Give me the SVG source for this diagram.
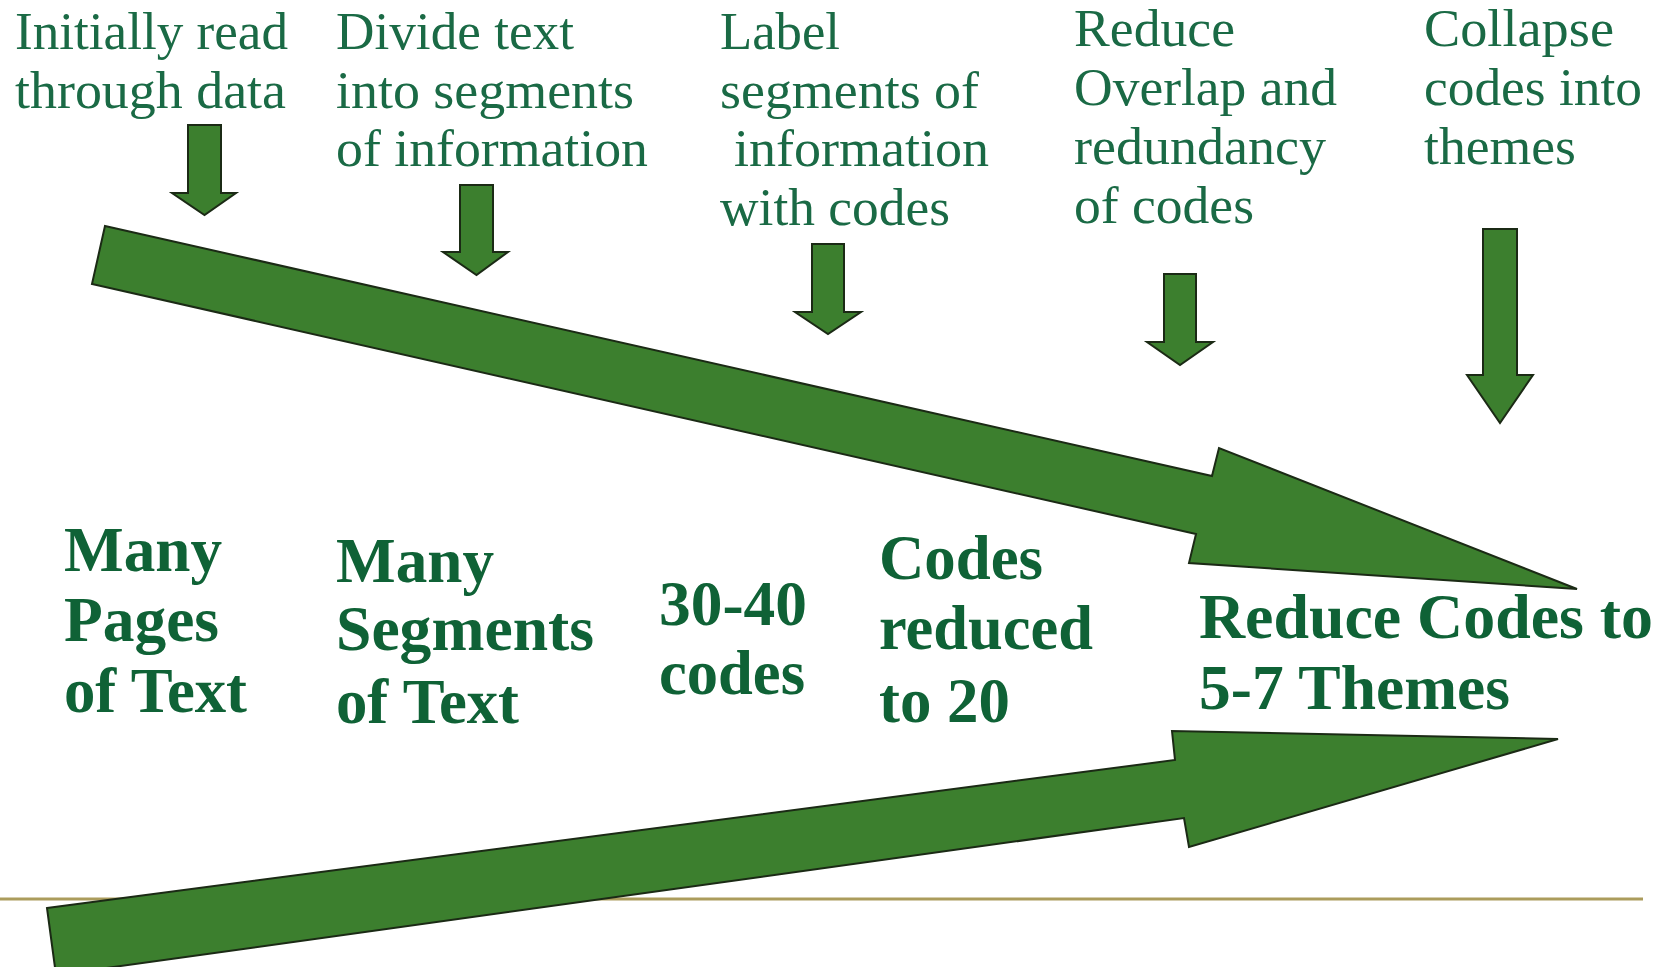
<svg xmlns="http://www.w3.org/2000/svg" width="1674" height="967" viewBox="0 0 1674 967">
<style>
.arrow{fill:#3c7f2e;stroke:#1b2a15;stroke-width:2;stroke-linejoin:miter}
.step{font-family:"Liberation Serif","Times New Roman",serif;font-size:53px;fill:#1a6a45}
.stage{font-family:"Liberation Serif","Times New Roman",serif;font-size:63px;font-weight:bold;fill:#0f6236}
</style>
<rect width="1674" height="967" fill="#ffffff"/>
<line x1="0" y1="899" x2="1643" y2="899" stroke="#ab9c5c" stroke-width="3"/>
<g id="connectors">
  <polygon class="arrow" points="105,226 1212,476 1219,448 1577,589 1189,563 1196,534 92,284"/>
  <polygon class="arrow" points="47,908 1175,760 1172,731 1558,739 1189,847 1184,818 56,975"/>
  <polygon class="arrow" points="188,125 221,125 221,193 236,193 204.5,215 172,193 188,193"/>
  <polygon class="arrow" points="460,185 493,185 493,252 508,252 476.5,275 443,252 460,252"/>
  <polygon class="arrow" points="812,244 844,244 844,312 861,312 828,334 795,312 812,312"/>
  <polygon class="arrow" points="1164,274 1196,274 1196,342 1213,342 1180,365 1147,342 1164,342"/>
  <polygon class="arrow" points="1483,229 1517,229 1517,375 1533,375 1500,423 1467,375 1483,375"/>
</g>
<g id="step1">
  <text class="step" x="15" y="49" textLength="273" lengthAdjust="spacingAndGlyphs">Initially read</text>
  <text class="step" x="15" y="108" textLength="271" lengthAdjust="spacingAndGlyphs">through data</text>
</g>
<g id="step2">
  <text class="step" x="336" y="49" textLength="238" lengthAdjust="spacingAndGlyphs">Divide text</text>
  <text class="step" x="336" y="108" textLength="298" lengthAdjust="spacingAndGlyphs">into segments</text>
  <text class="step" x="336" y="166" textLength="312" lengthAdjust="spacingAndGlyphs">of information</text>
</g>
<g id="step3">
  <text class="step" x="720" y="49" textLength="120" lengthAdjust="spacingAndGlyphs">Label</text>
  <text class="step" x="720" y="108" textLength="259" lengthAdjust="spacingAndGlyphs">segments of</text>
  <text class="step" x="734" y="166" textLength="255" lengthAdjust="spacingAndGlyphs">information</text>
  <text class="step" x="720" y="225" textLength="230" lengthAdjust="spacingAndGlyphs">with codes</text>
</g>
<g id="step4">
  <text class="step" x="1074" y="46" textLength="161" lengthAdjust="spacingAndGlyphs">Reduce</text>
  <text class="step" x="1074" y="105" textLength="263" lengthAdjust="spacingAndGlyphs">Overlap and</text>
  <text class="step" x="1074" y="164" textLength="252" lengthAdjust="spacingAndGlyphs">redundancy</text>
  <text class="step" x="1074" y="223" textLength="180" lengthAdjust="spacingAndGlyphs">of codes</text>
</g>
<g id="step5">
  <text class="step" x="1424" y="46" textLength="190" lengthAdjust="spacingAndGlyphs">Collapse</text>
  <text class="step" x="1424" y="105" textLength="218" lengthAdjust="spacingAndGlyphs">codes into</text>
  <text class="step" x="1424" y="164" textLength="152" lengthAdjust="spacingAndGlyphs">themes</text>
</g>
<g id="stage1">
  <text class="stage" x="64" y="571" textLength="158" lengthAdjust="spacingAndGlyphs">Many</text>
  <text class="stage" x="64" y="641" textLength="155" lengthAdjust="spacingAndGlyphs">Pages</text>
  <text class="stage" x="64" y="712" textLength="183" lengthAdjust="spacingAndGlyphs">of Text</text>
</g>
<g id="stage2">
  <text class="stage" x="336" y="582" textLength="158" lengthAdjust="spacingAndGlyphs">Many</text>
  <text class="stage" x="336" y="650" textLength="258" lengthAdjust="spacingAndGlyphs">Segments</text>
  <text class="stage" x="336" y="723" textLength="183" lengthAdjust="spacingAndGlyphs">of Text</text>
</g>
<g id="stage3">
  <text class="stage" x="659" y="625" textLength="148" lengthAdjust="spacingAndGlyphs">30-40</text>
  <text class="stage" x="659" y="694" textLength="146" lengthAdjust="spacingAndGlyphs">codes</text>
</g>
<g id="stage4">
  <text class="stage" x="879" y="579" textLength="164" lengthAdjust="spacingAndGlyphs">Codes</text>
  <text class="stage" x="879" y="649" textLength="214" lengthAdjust="spacingAndGlyphs">reduced</text>
  <text class="stage" x="879" y="722" textLength="131" lengthAdjust="spacingAndGlyphs">to 20</text>
</g>
<g id="stage5">
  <text class="stage" x="1199" y="638" textLength="454" lengthAdjust="spacingAndGlyphs">Reduce Codes to</text>
  <text class="stage" x="1199" y="709" textLength="311" lengthAdjust="spacingAndGlyphs">5-7 Themes</text>
</g>
</svg>
